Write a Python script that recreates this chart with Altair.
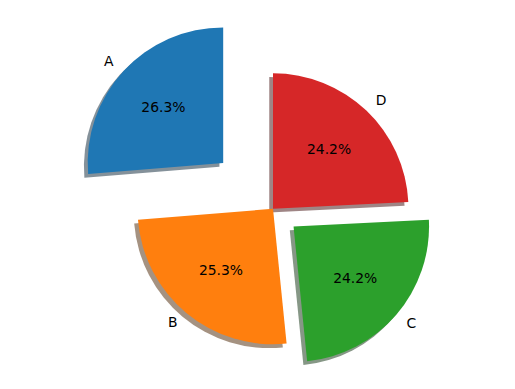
import altair as alt
import pandas as pd
import math

labels = ["A", "B", "C", "D"]
sizes = [26.3, 25.3, 24.2, 24.2]
explode = [0.5, 0.0, 0.2, 0.0]
colors = ["#1f77b4", "#ff7f0e", "#2ca02c", "#d62728"]


def shade(hexc):
    r, g, b = (int(hexc[i:i + 2], 16) for i in (1, 3, 5))
    return "#%02x%02x%02x" % (int(r * 0.3), int(g * 0.3), int(b * 0.3))


shadow_colors = [shade(c) for c in colors]

df = pd.DataFrame({"label": labels, "size": sizes, "explode": explode,
                   "order": list(range(len(labels)))})

W, H = 515, 389
CX, CY, R = 273.0, 208.8, 135.5
xs = alt.Scale(domain=[-CX / R, (W - CX) / R], nice=False, zero=False)
ys = alt.Scale(domain=[(CY - H) / R, CY / R], nice=False, zero=False)
ts = alt.Scale(domain=[0, 1], range=[2 * math.pi, 0])

base = alt.Chart(df).transform_window(
    cum="sum(size)", sort=[{"field": "order"}], frame=[None, 0]
).transform_joinaggregate(total="sum(size)").transform_calculate(
    end="datum.cum / datum.total",
    start="(datum.cum - datum.size) / datum.total",
).transform_calculate(
    mid="PI / 2 + PI * (datum.start + datum.end)"
).transform_calculate(
    cx="datum.explode * cos(datum.mid)",
    cy="datum.explode * sin(datum.mid)",
).transform_calculate(
    sx="datum.cx - 0.02 * 100 / 72",
    sy="datum.cy - 0.02 * 100 / 72",
    lx="datum.cx + 1.1 * cos(datum.mid)",
    ly="datum.cy + 1.1 * sin(datum.mid)",
    px="datum.cx + 0.6 * cos(datum.mid)",
    py="datum.cy + 0.6 * sin(datum.mid)",
    pct="format(100 * datum.size / datum.total, '.1f') + '%'",
)

color_scale = alt.Scale(domain=labels, range=colors)
shadow_scale = alt.Scale(domain=labels, range=shadow_colors)

shadow = base.mark_arc(fillOpacity=0.5).encode(
    x=alt.X("sx:Q", scale=xs, axis=None),
    y=alt.Y("sy:Q", scale=ys, axis=None),
    theta=alt.Theta("start:Q", scale=ts),
    theta2="end:Q",
    radius=alt.value(R),
    fill=alt.Fill("label:N", scale=shadow_scale, legend=None),
)

wedges = base.mark_arc().encode(
    x=alt.X("cx:Q", scale=xs, axis=None),
    y=alt.Y("cy:Q", scale=ys, axis=None),
    theta=alt.Theta("start:Q", scale=ts),
    theta2="end:Q",
    radius=alt.value(R),
    fill=alt.Fill("label:N", scale=color_scale, legend=None),
)

font = dict(font="DejaVu Sans", fontSize=13.9, color="black", baseline="middle")

lab_right = base.transform_filter("datum.lx <= 0").mark_text(align="right", **font).encode(
    x=alt.X("lx:Q", scale=xs, axis=None),
    y=alt.Y("ly:Q", scale=ys, axis=None),
    text="label:N",
)
lab_left = base.transform_filter("datum.lx > 0").mark_text(align="left", **font).encode(
    x=alt.X("lx:Q", scale=xs, axis=None),
    y=alt.Y("ly:Q", scale=ys, axis=None),
    text="label:N",
)
pcts = base.mark_text(align="center", **font).encode(
    x=alt.X("px:Q", scale=xs, axis=None),
    y=alt.Y("py:Q", scale=ys, axis=None),
    text="pct:N",
)

chart = alt.layer(shadow, wedges, lab_right, lab_left, pcts).resolve_scale(
    fill="independent"
).properties(
    width=W, height=H, padding=0, autosize=alt.AutoSizeParams(type="none"),
    background="white",
).configure_view(stroke=None)

chart.save("out.html", embed_options={"renderer": "svg", "actions": False})
